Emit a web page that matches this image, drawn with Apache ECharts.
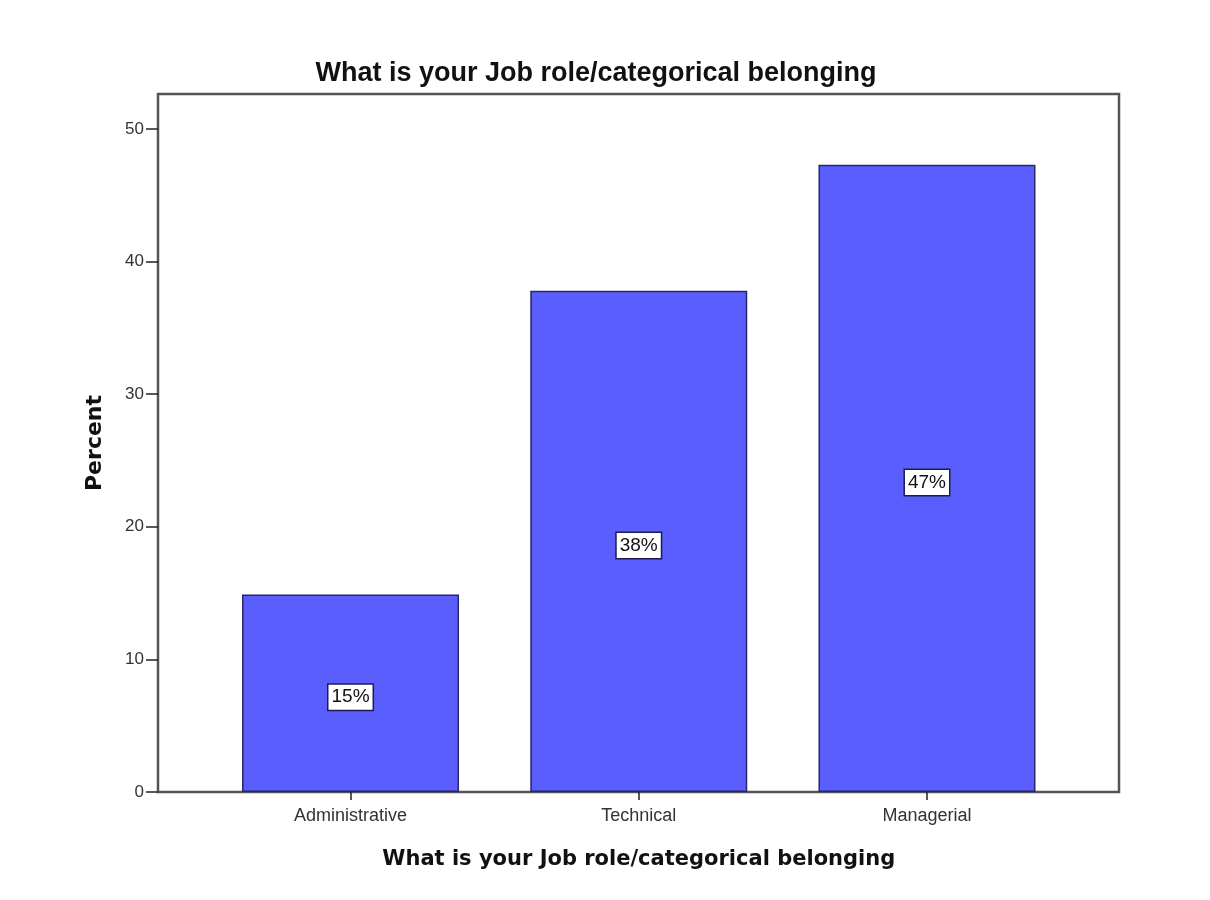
<!DOCTYPE html>
<html>
<head>
<meta charset="utf-8">
<script src="https://cdn.jsdelivr.net/npm/echarts@6/dist/echarts.min.js"></script>
<style>
  html, body { margin: 0; padding: 0; background: #ffffff; }
  #chart { width: 1210px; height: 900px; }
</style>
</head>
<body>
<div id="chart"></div>
<script>
// Job role distribution (percent of respondents)
const chartTitle = 'What is your Job role/categorical belonging';
const categories = ['Administrative', 'Technical', 'Managerial'];
const percentValues = [14.9, 37.8, 47.3];
const yTickMax = 52.64;
const yTickStep = 10;

const chart = echarts.init(document.getElementById('chart'), null, { renderer: 'canvas' });

const plotTop = 94, plotBottom = 108;

chart.setOption({
  backgroundColor: '#ffffff',
  animation: false,
  title: {
    text: chartTitle,
    left: 591,
    top: 55,
    textAlign: 'center',
    textStyle: { fontFamily: 'Liberation Sans, Arial, sans-serif', fontWeight: 'bold', fontSize: 27, color: '#111' }
  },
  grid: [
    // framed plot area carrying the percent scale
    { left: 158, right: 91, top: plotTop, bottom: plotBottom, show: true, borderColor: '#555', borderWidth: 2.5, backgroundColor: '#fff' },
    // inner band holding the category bars
    { left: 206.4, right: 138.9, top: plotTop, bottom: plotBottom }
  ],
  xAxis: [
    { gridIndex: 0, type: 'value', show: false, min: 0, max: 1 },
    {
      gridIndex: 1,
      type: 'category',
      data: categories,
      boundaryGap: true,
      axisLine: { show: false },
      axisTick: { show: true, alignWithLabel: true, length: 8, lineStyle: { color: '#222', width: 1.5 } },
      axisLabel: { color: '#333', fontFamily: 'Liberation Sans, Arial, sans-serif', fontSize: 18, margin: 15 },
      name: chartTitle,
      nameLocation: 'middle',
      nameGap: 57,
      nameTextStyle: { fontFamily: 'DejaVu Sans, Verdana, sans-serif', fontWeight: 'bold', fontSize: 21, color: '#111' }
    }
  ],
  yAxis: [
    {
      gridIndex: 0,
      type: 'value',
      min: 0,
      max: yTickMax,
      interval: yTickStep,
      axisLine: { show: false },
      axisTick: { show: true, length: 12, lineStyle: { color: '#222', width: 1.5 } },
      axisLabel: { color: '#333', fontFamily: 'Liberation Sans, Arial, sans-serif', fontSize: 17, margin: 14,
        showMaxLabel: false },
      splitLine: { show: false },
      name: 'Percent',
      nameLocation: 'middle',
      nameGap: 52,
      nameRotate: 90,
      nameTextStyle: { fontFamily: 'DejaVu Sans, Verdana, sans-serif', fontWeight: 'bold', fontSize: 22, color: '#111' }
    },
    { gridIndex: 1, type: 'value', min: 0, max: yTickMax, show: false }
  ],
  series: [{
    type: 'bar',
    xAxisIndex: 1,
    yAxisIndex: 1,
    data: percentValues,
    barWidth: 217,
    itemStyle: { color: '#5a5efd', borderColor: '#26266e', borderWidth: 1.5 },
    label: {
      show: true,
      position: 'inside',
      offset: [0, 4],
      formatter: p => Math.round(p.value) + '%',
      color: '#111',
      fontFamily: 'Liberation Sans, Arial, sans-serif',
      fontSize: 19,
      backgroundColor: '#fff',
      borderColor: '#1c1c50',
      borderWidth: 1.5,
      padding: [4, 3, 2, 3]
    }
  }]
});
</script>
</body>
</html>
